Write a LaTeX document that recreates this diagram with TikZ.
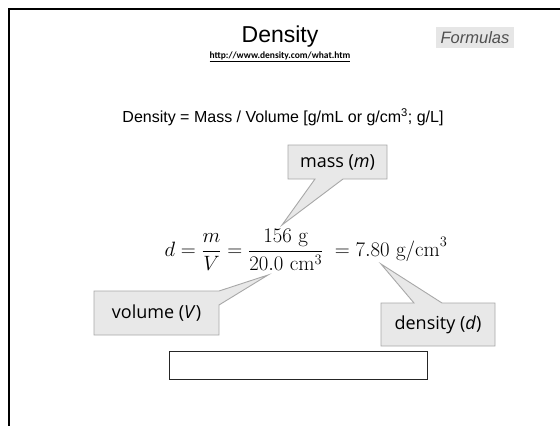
\documentclass[tikz,border=0pt]{standalone}
\usepackage{amsmath}
\usepackage{fontspec}
\newfontfamily\arialf{Liberation Sans}
\newfontfamily\calibf{Carlito}
\newfontfamily\labelf{Open Sans}
\definecolor{boxfill}{HTML}{E8E8E8}
\definecolor{boxline}{HTML}{A8A8A8}
\definecolor{formbg}{HTML}{E6E6E6}
\definecolor{formtx}{HTML}{505050}
\begin{document}
\begin{tikzpicture}[x=1pt,y=-1pt,
  callout/.style={fill=boxfill,draw=boxline,line width=0.9pt,line join=miter},
  calltext/.style={font=\labelf\fontsize{18}{20}\selectfont,inner sep=0pt},
  ]
\useasboundingbox (0,0) rectangle (560,426);
\fill[white] (0,0) rectangle (560,426);
\draw[line width=2.5pt] (9,427) -- (9,9) -- (561,9);

\node[font=\arialf\fontsize{23}{25}\selectfont] (title) at (280,37) {Density};
\node[fill=formbg,text=formtx,font=\arialf\itshape\fontsize{16.5}{18}\selectfont,
      minimum width=78pt,minimum height=21pt,inner sep=0pt] (formulas) at (475,37.5) {Formulas};
\node[font=\calibf\bfseries\fontsize{9.5}{11}\selectfont] (url) at (280,56.5) {\underline{http://www.density.com/what.htm}};
\node[font=\arialf\fontsize{16}{18}\selectfont] (def) at (283,117) {Density = Mass / Volume [g/mL or g/cm\textsuperscript{3}; g/L]};

% callouts
\coordinate (mtip) at (282,225);
\coordinate (vtip) at (268,275);
\coordinate (dtip) at (381,264);
\draw[callout] (288,145) -- (387,145) -- (387,179) -- (343,179) -- (mtip) -- (315,179) -- (288,179) -- cycle;
\draw[callout] (94,291) -- (219,291) -- (vtip) -- (219,305) -- (219,335) -- (94,335) -- cycle;
\draw[callout] (381,303) -- (414,303) -- (dtip) -- (442,303) -- (495,303) -- (495,346) -- (381,346) -- cycle;
\node[calltext] (mass) at (337.5,162) {mass (\textit{m})};
\node[calltext] (volume) at (156.5,313) {volume (\textit{V})};
\node[calltext] (density) at (438,324.5) {density (\textit{d})};

\node[font=\fontsize{21}{24}\selectfont] (eq) at (306,250)
  {$d=\dfrac{m}{V}=\dfrac{156\ \mathrm{g}}{20.0\ \mathrm{cm}^3}\;=7.80\ \mathrm{g/cm}^3$};

\node[draw=black!85,line width=0.9pt,fill=white,minimum width=258pt,minimum height=28pt,inner sep=0pt] (blank) at (298,365) {};
\end{tikzpicture}
\end{document}
